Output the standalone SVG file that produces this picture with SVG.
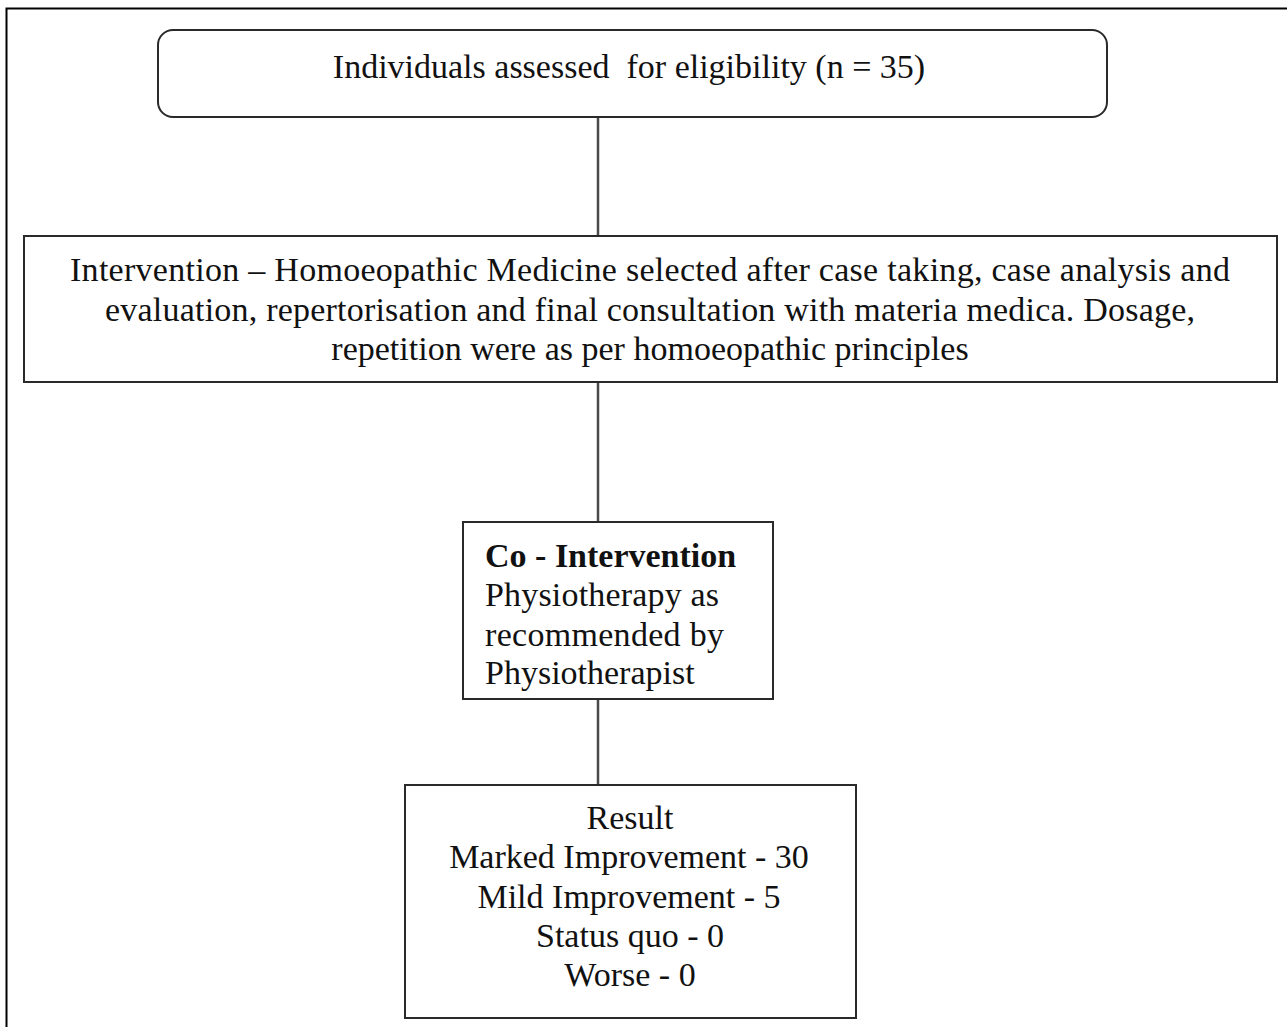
<svg xmlns="http://www.w3.org/2000/svg" width="1287" height="1027" viewBox="0 0 1287 1027">
<style>
.box{fill:#fff;stroke:#2a2a2a;stroke-width:2}
.conn{stroke:#4a4a4a;stroke-width:2.5;fill:none}
.frame{stroke:#000;stroke-width:2;fill:none}
text{font-family:"Liberation Serif","Times New Roman",serif;font-size:34px;fill:#111}
.c{text-anchor:middle}
.b{font-weight:bold}
.pre{white-space:pre}
</style>
<rect width="1287" height="1027" fill="#fff"/>
<path class="frame" d="M6.5 1027 V8.5 H1287"/>
<g id="connectors">
<line class="conn" x1="598" y1="117" x2="598" y2="236"/>
<line class="conn" x1="598" y1="382" x2="598" y2="522"/>
<line class="conn" x1="598" y1="699" x2="598" y2="785"/>
</g>
<g id="node-eligibility">
<rect class="box" x="158" y="30" width="949" height="87" rx="15" ry="15"/>
<text class="c pre" x="629" y="78">Individuals assessed  for eligibility (n = 35)</text>
</g>
<g id="node-intervention">
<rect class="box" x="24" y="236" width="1253" height="146"/>
<text x="70" y="281" textLength="1160" lengthAdjust="spacing">Intervention – Homoeopathic Medicine selected after case taking, case analysis and</text>
<text x="105" y="321" textLength="1090" lengthAdjust="spacing">evaluation, repertorisation and final consultation with materia medica. Dosage,</text>
<text class="c" x="650" y="360">repetition were as per homoeopathic principles</text>
</g>
<g id="node-cointervention">
<rect class="box" x="463" y="522" width="310" height="177"/>
<text class="b" x="485" y="567">Co - Intervention</text>
<text x="485" y="606" textLength="234" lengthAdjust="spacing">Physiotherapy as</text>
<text x="485" y="646" textLength="239" lengthAdjust="spacing">recommended by</text>
<text x="485" y="684">Physiotherapist</text>
</g>
<g id="node-result">
<rect class="box" x="405" y="785" width="451" height="233"/>
<text class="c" x="630" y="829">Result</text>
<text class="c" x="629" y="868">Marked Improvement - 30</text>
<text class="c" x="629" y="908">Mild Improvement - 5</text>
<text class="c" x="630" y="947">Status quo - 0</text>
<text class="c" x="630" y="986">Worse - 0</text>
</g>
</svg>
